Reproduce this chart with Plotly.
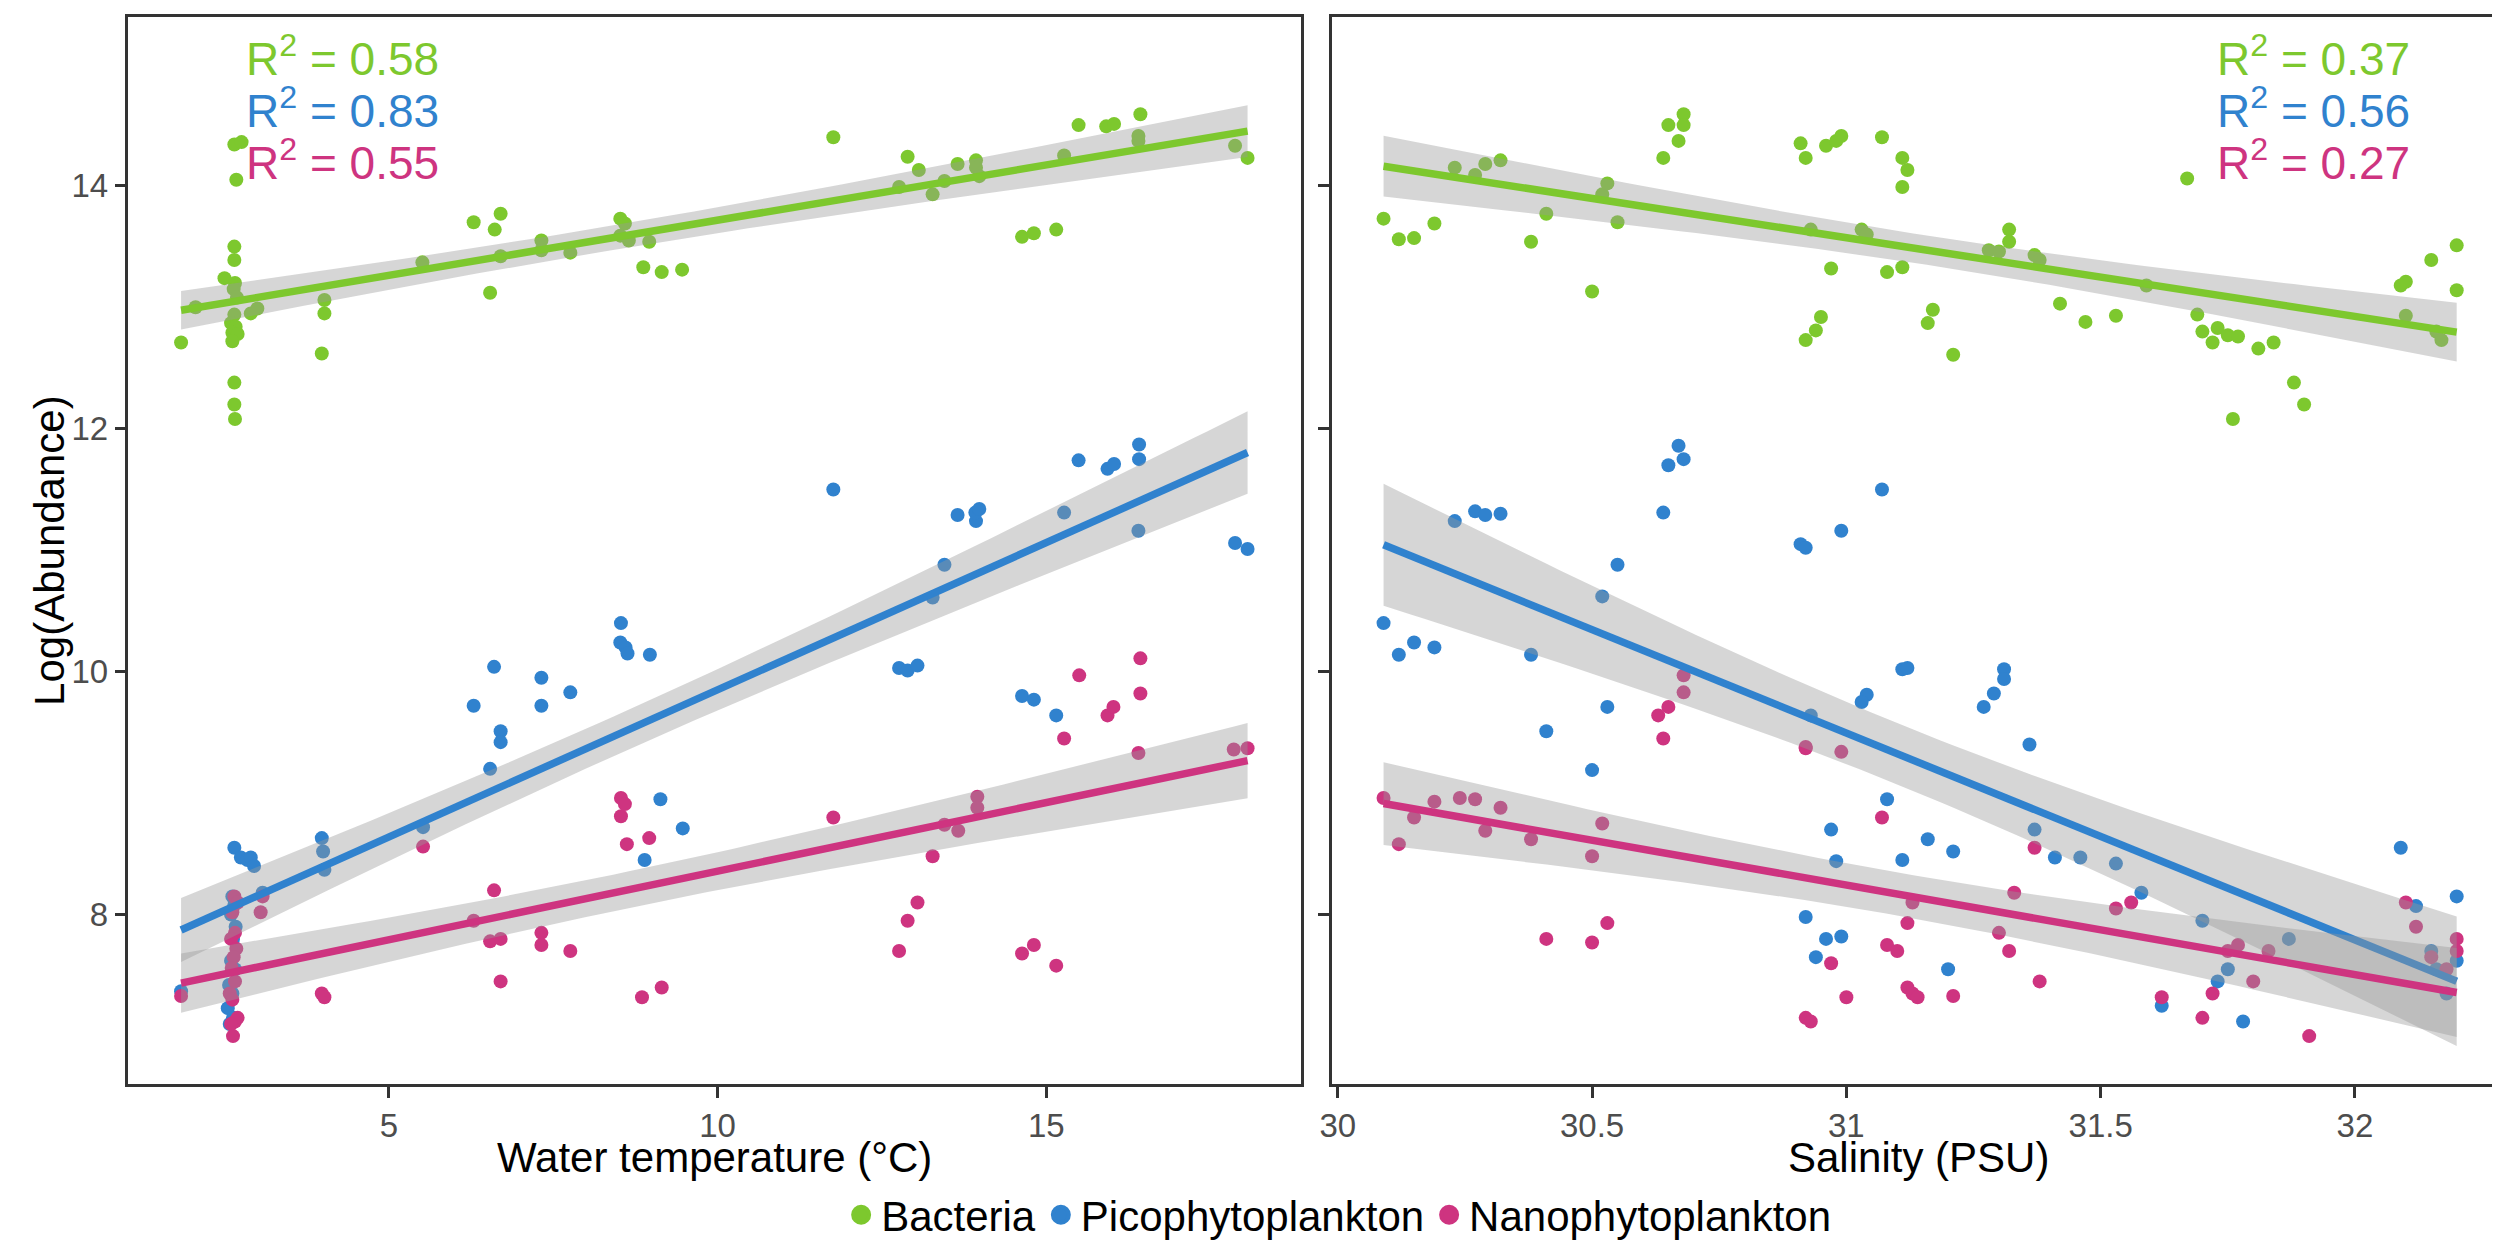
import numpy as np
import plotly.graph_objects as go

# groups and colours
groups = ["Bacteria", "Picophytoplankton", "Nanophytoplankton"]
colors = ["#7DC82E", "#3082CE", "#CE3480"]

# R2 labels shown in each panel
r2_temp = ["0.58", "0.83", "0.55"]
r2_sal = ["0.37", "0.56", "0.27"]

# ---- water temperature panel ----
temp_bact_x = [1.84, 2.06, 2.50, 2.65, 2.65, 2.66, 2.64, 2.69, 2.65, 2.60, 2.67, 2.62, 2.70, 2.62,
               2.65, 2.76, 2.68, 2.90, 3.00, 4.02, 4.02, 3.98, 2.65, 2.65, 2.66,
               5.51, 6.29, 6.61, 6.70, 6.54, 6.70, 7.32, 7.32, 7.76, 8.52, 8.59, 8.52, 8.65, 8.96,
               8.87, 9.15, 9.46, 11.76, 12.89, 13.06, 12.76, 13.27, 13.45, 13.65, 13.93, 13.93, 13.98,
               14.63, 14.81, 15.15, 15.27, 15.49, 15.91, 16.03, 16.43, 16.40, 16.40, 17.87, 18.06]
temp_bact_y = [12.71, 13.00, 13.24, 13.50, 13.39, 13.20, 13.15, 13.08, 12.94, 12.87, 12.84, 12.79, 12.78, 12.72,
               14.34, 14.36, 14.05, 12.95, 12.99, 13.06, 12.95, 12.62, 12.38, 12.20, 12.08,
               13.37, 13.70, 13.64, 13.77, 13.12, 13.42, 13.55, 13.47, 13.45, 13.73, 13.69, 13.59, 13.55, 13.54,
               13.33, 13.29, 13.31, 14.40, 14.24, 14.13, 13.99, 13.93, 14.04, 14.18, 14.21, 14.15, 14.08,
               13.58, 13.61, 13.64, 14.25, 14.50, 14.49, 14.51, 14.59, 14.41, 14.37, 14.33, 14.23]

temp_pico_x = [1.84, 2.65, 2.75, 2.85, 2.90, 2.95, 3.08, 2.62, 2.65, 2.60, 2.67, 2.63, 2.60, 2.66, 2.57,
               2.62, 2.55, 2.63, 2.58, 3.98, 4.00, 4.02, 5.52,
               6.60, 7.32, 7.76, 6.29, 7.32, 6.70, 6.70, 6.54, 8.53, 8.52, 8.60, 8.63, 8.97,
               9.13, 9.47, 8.89, 11.76, 12.76, 12.89, 13.04, 13.27, 13.45, 13.65, 13.93, 13.92, 13.98,
               14.63, 14.81, 15.15, 15.27, 15.49, 15.93, 16.03, 16.41, 16.41, 16.40, 17.87, 18.06]
temp_pico_y = [7.37, 8.55, 8.47, 8.45, 8.47, 8.40, 8.18, 8.15, 8.08, 8.00, 7.90, 7.80, 7.62, 7.55, 7.42,
               7.35, 7.23, 7.15, 7.10, 8.63, 8.52, 8.37, 8.72,
               10.04, 9.95, 9.83, 9.72, 9.72, 9.51, 9.42, 9.20, 10.40, 10.24, 10.20, 10.15, 10.14,
               8.95, 8.71, 8.45, 11.50, 10.03, 10.01, 10.05, 10.61, 10.88, 11.29, 11.24, 11.31, 11.34,
               9.80, 9.77, 9.64, 11.31, 11.74, 11.67, 11.71, 11.87, 11.75, 11.16, 11.06, 11.01]

temp_nano_x = [1.84, 2.65, 2.70, 2.62, 2.66, 2.60, 2.68, 2.64, 2.61, 2.66, 2.58, 2.62, 2.70, 2.66, 2.60,
               2.63, 3.08, 3.05, 3.98, 4.02, 5.52,
               6.60, 6.29, 6.54, 6.70, 6.70, 7.32, 7.32, 7.76, 8.53, 8.59, 8.53, 8.62, 8.96, 8.85, 9.15,
               11.76, 12.76, 12.89, 13.04, 13.27, 13.45, 13.66, 13.95, 13.95,
               14.63, 14.81, 15.15, 15.27, 15.50, 15.93, 16.02, 16.43, 16.43, 16.40, 17.85, 18.06]
temp_nano_y = [7.33, 8.15, 8.10, 8.02, 7.85, 7.80, 7.72, 7.65, 7.56, 7.45, 7.35, 7.30, 7.15, 7.12, 7.10,
               7.00, 8.15, 8.02, 7.35, 7.32, 8.56,
               8.20, 7.95, 7.78, 7.80, 7.45, 7.85, 7.75, 7.70, 8.96, 8.91, 8.81, 8.58, 8.63, 7.32, 7.40,
               8.80, 7.70, 7.95, 8.10, 8.48, 8.74, 8.69, 8.97, 8.88,
               7.68, 7.75, 7.58, 9.45, 9.97, 9.64, 9.71, 10.11, 9.82, 9.33, 9.36, 9.37]

# ---- salinity panel ----
sal_bact_x = [30.09, 30.12, 30.15, 30.19, 30.23, 30.27, 30.29, 30.32, 30.41, 30.38,
              30.50, 30.52, 30.53, 30.55, 30.64, 30.65, 30.68, 30.68, 30.67,
              30.91, 30.92, 30.96, 30.98, 30.99, 31.07, 31.11, 31.12, 31.11, 31.67,
              30.93, 31.03, 31.04, 30.97, 31.08, 31.11, 31.17, 31.16, 30.95, 30.94, 30.92, 31.21,
              31.32, 31.32, 31.28, 31.30, 31.37, 31.38, 31.42, 31.47, 31.53, 31.59,
              31.69, 31.70, 31.73, 31.72, 31.75, 31.77, 31.81, 31.84, 31.88, 31.90, 31.76,
              32.09, 32.10, 32.10, 32.15, 32.20, 32.20, 32.16, 32.17]
sal_bact_y = [13.73, 13.56, 13.57, 13.69, 14.15, 14.09, 14.18, 14.21, 13.77, 13.54,
              13.13, 13.93, 14.02, 13.70, 14.23, 14.50, 14.59, 14.50, 14.37,
              14.35, 14.23, 14.33, 14.37, 14.41, 14.40, 14.23, 14.13, 13.99, 14.06,
              13.64, 13.64, 13.60, 13.32, 13.29, 13.33, 12.98, 12.87, 12.92, 12.81, 12.73, 12.61,
              13.64, 13.54, 13.47, 13.46, 13.43, 13.39, 13.03, 12.88, 12.93, 13.18,
              12.94, 12.80, 12.83, 12.71, 12.77, 12.76, 12.66, 12.71, 12.38, 12.20, 12.08,
              13.18, 13.21, 12.93, 13.39, 13.51, 13.14, 12.80, 12.73]

sal_pico_x = [30.09, 30.12, 30.15, 30.19, 30.23, 30.27, 30.29, 30.32, 30.38,
              30.41, 30.50, 30.53, 30.52, 30.55, 30.64, 30.65, 30.67, 30.68,
              30.91, 30.92, 30.99, 31.07, 31.11, 31.12, 31.31, 31.31, 31.29, 31.27, 31.04, 31.03, 30.93, 31.36,
              31.08, 30.97, 30.98, 31.16, 31.21, 31.11, 31.37, 31.41, 31.46, 31.53, 32.09,
              30.92, 30.94, 30.96, 30.99, 31.20, 31.58, 31.62, 31.70, 31.73, 31.75, 31.78, 31.87,
              32.12, 32.16, 32.18, 32.20, 32.20, 32.15]
sal_pico_y = [10.40, 10.14, 10.24, 10.20, 11.24, 11.32, 11.29, 11.30, 10.14,
              9.51, 9.19, 9.71, 10.62, 10.88, 11.31, 11.70, 11.86, 11.75,
              11.05, 11.02, 11.16, 11.50, 10.02, 10.03, 10.02, 9.94, 9.82, 9.71, 9.81, 9.75, 9.64, 9.40,
              8.95, 8.70, 8.44, 8.62, 8.52, 8.45, 8.70, 8.47, 8.47, 8.42, 8.55,
              7.98, 7.65, 7.80, 7.82, 7.55, 8.18, 7.25, 7.95, 7.45, 7.55, 7.12, 7.80,
              8.07, 7.55, 7.35, 8.15, 7.62, 7.70]

sal_nano_x = [30.09, 30.12, 30.15, 30.19, 30.24, 30.27, 30.29, 30.32, 30.38,
              30.41, 30.50, 30.52, 30.50, 30.53, 30.63, 30.64, 30.65, 30.68, 30.68,
              30.92, 30.92, 30.99, 31.07, 31.37, 30.92, 30.93, 30.97, 31.00,
              31.08, 31.10, 31.12, 31.13, 31.14, 31.21, 31.12, 31.13,
              31.32, 31.30, 31.33, 31.38, 31.53, 31.56,
              31.62, 31.70, 31.72, 31.75, 31.77, 31.80, 31.83, 31.91,
              32.10, 32.12, 32.15, 32.18, 32.20, 32.20]
sal_nano_y = [8.96, 8.58, 8.80, 8.93, 8.96, 8.95, 8.69, 8.88, 8.62,
              7.80, 8.48, 8.75, 7.77, 7.93, 9.64, 9.45, 9.71, 9.97, 9.83,
              9.37, 9.38, 9.34, 8.80, 8.55, 7.15, 7.12, 7.60, 7.32,
              7.75, 7.70, 7.40, 7.35, 7.32, 7.33, 7.93, 8.10,
              7.70, 7.85, 8.18, 7.45, 8.05, 8.10,
              7.32, 7.15, 7.35, 7.70, 7.75, 7.45, 7.70, 7.00,
              8.10, 7.90, 7.65, 7.55, 7.80, 7.70]

temp_data = [(temp_bact_x, temp_bact_y), (temp_pico_x, temp_pico_y), (temp_nano_x, temp_nano_y)]
sal_data = [(sal_bact_x, sal_bact_y), (sal_pico_x, sal_pico_y), (sal_nano_x, sal_nano_y)]


def lm_fit(x, y, npts=80):
    # ordinary least squares with a 95% confidence band, like geom_smooth(method="lm")
    x = np.asarray(x, float)
    y = np.asarray(y, float)
    n = len(x)
    b, a = np.polyfit(x, y, 1)
    resid = y - (a + b * x)
    s2 = np.sum(resid ** 2) / (n - 2)
    sxx = np.sum((x - x.mean()) ** 2)
    df = n - 2
    z = 1.959964
    t = z + (z ** 3 + z) / (4 * df) + (5 * z ** 5 + 16 * z ** 3 + 3 * z) / (96 * df ** 2)
    xs = np.linspace(x.min(), x.max(), npts)
    fit = a + b * xs
    se = np.sqrt(s2 * (1.0 / n + (xs - x.mean()) ** 2 / sxx))
    return xs, fit, fit - t * se, fit + t * se


fig = go.Figure()

panels = [(temp_data, "x", "y"), (sal_data, "x2", "y2")]

# points first, then the smooth ribbons and lines on top
for data, xa, ya in panels:
    for (px, py), col in zip(data, colors):
        fig.add_trace(go.Scatter(x=px, y=py, mode="markers", xaxis=xa, yaxis=ya,
                                 marker=dict(color=col, size=14, line=dict(width=0)),
                                 showlegend=False, hoverinfo="skip"))

for data, xa, ya in panels:
    for (px, py), col in zip(data, colors):
        xs, fit, lo, hi = lm_fit(px, py)
        fig.add_trace(go.Scatter(x=list(xs) + list(xs[::-1]), y=list(hi) + list(lo[::-1]),
                                 mode="lines", fill="toself", fillcolor="rgba(153,153,153,0.4)",
                                 line=dict(width=0), xaxis=xa, yaxis=ya,
                                 showlegend=False, hoverinfo="skip"))
        fig.add_trace(go.Scatter(x=xs, y=fit, mode="lines", xaxis=xa, yaxis=ya,
                                 line=dict(color=col, width=7.5),
                                 showlegend=False, hoverinfo="skip"))

# legend entries (outline in the same colour makes the dot a bit bigger)
for g, col in zip(groups, colors):
    fig.add_trace(go.Scatter(x=[None], y=[None], mode="markers", name=g,
                             marker=dict(color=col, size=16, line=dict(color=col, width=4))))

# R2 labels
r2_y = [15.07, 14.64, 14.21]
for lab, col, yy in zip(r2_temp, colors, r2_y):
    fig.add_annotation(x=2.8, y=yy, xref="x", yref="y", text="R<sup>2</sup> = " + lab,
                       showarrow=False, xanchor="left", yanchor="middle",
                       font=dict(size=46, color=col))
for lab, col, yy in zip(r2_sal, colors, r2_y):
    fig.add_annotation(x=31.725, y=yy, xref="x2", yref="y2", text="R<sup>2</sup> = " + lab,
                       showarrow=False, xanchor="left", yanchor="middle",
                       font=dict(size=46, color=col))

# axis titles
title_font = dict(size=42, color="black", family="Liberation Sans, Arial, sans-serif")
fig.add_annotation(x=0.2792, y=0.069, xref="paper", yref="paper", text="Water temperature (°C)",
                   showarrow=False, xanchor="center", yanchor="middle", font=title_font)
fig.add_annotation(x=0.763, y=0.069, xref="paper", yref="paper", text="Salinity (PSU)",
                   showarrow=False, xanchor="center", yanchor="middle", font=title_font)
fig.add_annotation(x=0.0016, y=0.5608, xref="paper", yref="paper", text="Log(Abundance)",
                   textangle=-90, showarrow=False, xanchor="left", yanchor="middle", font=title_font)

axis_common = dict(showline=True, linecolor="#333333", linewidth=2.5, mirror=True,
                   showgrid=False, zeroline=False, ticks="outside", ticklen=11, tickwidth=3,
                   tickcolor="#333333", tickfont=dict(size=33, color="#4D4D4D"))

temp_ticks = [5, 10, 15]
sal_ticks = [30, 30.5, 31, 31.5, 32]
y_ticks = [8, 10, 12, 14]

fig.update_layout(
    width=2500, height=1241,
    margin=dict(l=0, r=0, t=0, b=0),
    paper_bgcolor="white", plot_bgcolor="white",
    font=dict(family="Liberation Sans, Arial, sans-serif"),
    xaxis=dict(domain=[0.0436, 0.5148], range=[1.04, 18.87], tickvals=temp_ticks,
               anchor="y", **axis_common),
    xaxis2=dict(domain=[0.5272, 0.9988], range=[29.988, 32.295], tickvals=sal_ticks,
                ticktext=[str(v) for v in sal_ticks], anchor="y2", **axis_common),
    yaxis=dict(domain=[0.1289, 0.9927], range=[6.607, 15.39], tickvals=y_ticks,
               anchor="x", **axis_common),
    yaxis2=dict(domain=[0.1289, 0.9927], range=[6.607, 15.39], tickvals=y_ticks,
                showticklabels=False, anchor="x2", **axis_common),
    legend=dict(orientation="h", x=0.53, xanchor="center", y=0.0226, yanchor="middle",
                font=dict(size=42, color="black"), itemwidth=30, bgcolor="rgba(0,0,0,0)"),
)

fig.write_html("out.html")
